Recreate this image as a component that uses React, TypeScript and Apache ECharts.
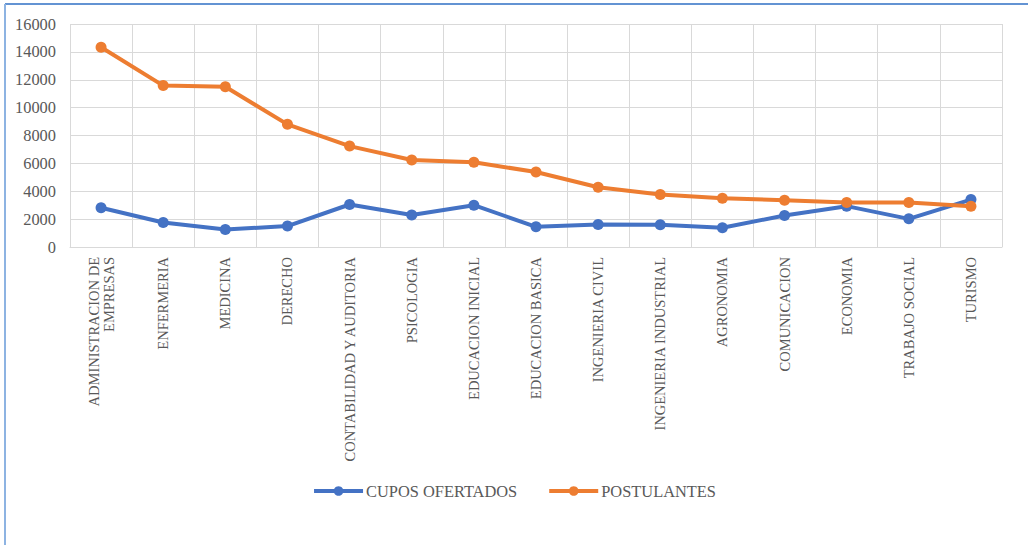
import React, { useEffect, useRef } from "react";
import * as echarts from "echarts";

const categories = [
  "ADMINISTRACION DE\nEMPRESAS",
  "ENFERMERIA",
  "MEDICINA",
  "DERECHO",
  "CONTABILIDAD Y AUDITORIA",
  "PSICOLOGIA",
  "EDUCACION INICIAL",
  "EDUCACION BASICA",
  "INGENIERIA CIVIL",
  "INGENIERIA INDUSTRIAL",
  "AGRONOMIA",
  "COMUNICACION",
  "ECONOMIA",
  "TRABAJO SOCIAL",
  "TURISMO",
];

const cuposOfertados = [2820, 1760, 1260, 1500, 3050, 2290, 3000, 1450, 1620, 1600, 1380, 2260, 2930, 2020, 3400];
const postulantes = [14330, 11580, 11500, 8800, 7240, 6240, 6080, 5380, 4290, 3760, 3500, 3360, 3200, 3190, 2920];

const seriesNames = ["CUPOS OFERTADOS", "POSTULANTES"];
const yTicks = { min: 0, max: 16000, interval: 2000 };

export default function App() {
  const ref = useRef<HTMLDivElement>(null);
  useEffect(() => {
    if (!ref.current) return;
    const chart = echarts.init(ref.current, undefined, { renderer: "svg" });
    const font = "Liberation Serif";
    chart.setOption({
      animation: false,
      textStyle: { fontFamily: font },
      graphic: [
        { type: "line", shape: { x1: 5, y1: 4, x2: 1028, y2: 4 }, style: { stroke: "#2f6fc4", lineWidth: 1.5 } },
        { type: "line", shape: { x1: 5, y1: 4, x2: 5, y2: 545 }, style: { stroke: "#8db3e2", lineWidth: 2 } },
      ],
      grid: { left: 70, right: 26, top: 24, bottom: 298, containLabel: false },
      legend: {
        bottom: 41,
        left: "center",
        itemWidth: 49,
        itemHeight: 12,
        itemGap: 30,
        lineStyle: { width: 4 },
        textStyle: { color: "#595959", fontSize: 16.4, fontFamily: font, padding: [0, 0, 0, -2] },
        data: seriesNames,
      },
      xAxis: {
        type: "category",
        data: categories,
        boundaryGap: true,
        axisLine: { lineStyle: { color: "#d9d9d9" } },
        axisTick: { show: false },
        splitLine: { show: true, lineStyle: { color: "#d9d9d9" } },
        axisLabel: {
          rotate: 90,
          interval: 0,
          margin: 10,
          color: "#595959",
          fontSize: 14.5,
          fontFamily: font,
          lineHeight: 15,
          align: "right",
        },
      },
      yAxis: {
        type: "value",
        min: yTicks.min,
        max: yTicks.max,
        interval: yTicks.interval,
        axisLine: { show: false },
        axisTick: { show: false },
        splitLine: { lineStyle: { color: "#d9d9d9" } },
        axisLabel: {
          color: "#595959",
          fontSize: 16.4,
          fontFamily: font,
          margin: 14,
          formatter: (v: number) => String(v),
        },
      },
      series: [
        {
          name: seriesNames[0],
          type: "line",
          data: cuposOfertados,
          symbol: "circle",
          symbolSize: 11,
          lineStyle: { width: 4, color: "#4472c4" },
          itemStyle: { color: "#4472c4" },
        },
        {
          name: seriesNames[1],
          type: "line",
          data: postulantes,
          symbol: "circle",
          symbolSize: 11,
          lineStyle: { width: 4, color: "#ed7d31" },
          itemStyle: { color: "#ed7d31" },
        },
      ],
    });
    return () => chart.dispose();
  }, []);
  return (
    <div
      ref={ref}
      style={{ position: "fixed", left: 0, top: 0, width: 1028, height: 545, background: "#fff" }}
    />
  );
}
